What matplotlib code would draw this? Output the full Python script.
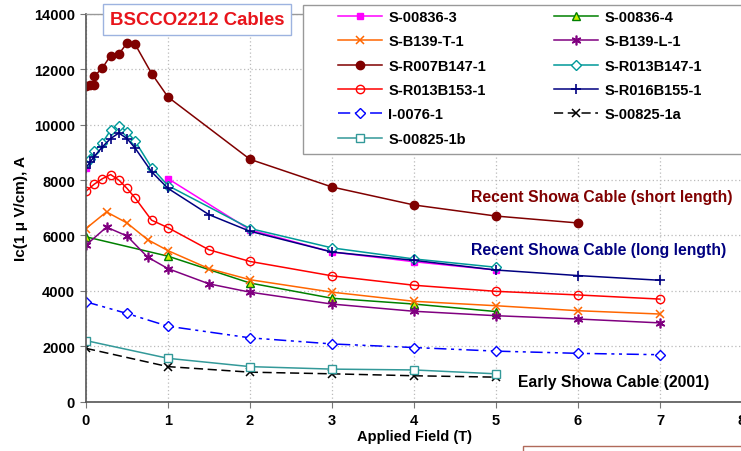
import matplotlib
matplotlib.use("Agg")
import matplotlib.pyplot as plt
from matplotlib.patches import Rectangle
from matplotlib.lines import Line2D

plt.rcParams['font.family'] = ['Liberation Sans', 'DejaVu Sans']
plt.rcParams['font.weight'] = 'bold'

# ---------------- data ----------------
x_836_3 = [0, 1, 2, 3, 4, 5]
y_836_3 = [8450, 8050, 6200, 5400, 5050, 4750]

x_836_4 = [0, 1, 2, 3, 4, 5]
y_836_4 = [5950, 5250, 4280, 3730, 3520, 3250]

x_b139_t = [0, 0.25, 0.5, 0.75, 1, 1.5, 2, 3, 4, 5, 6, 7]
y_b139_t = [6250, 6850, 6450, 5850, 5450, 4800, 4400, 3950, 3620, 3460, 3280, 3160]

x_b139_l = [0, 0.25, 0.5, 0.75, 1, 1.5, 2, 3, 4, 5, 6, 7]
y_b139_l = [5650, 6300, 5980, 5220, 4800, 4250, 3950, 3520, 3260, 3100, 2980, 2840]

x_r007 = [0, 0.05, 0.1, 0.1, 0.2, 0.3, 0.4, 0.5, 0.6, 0.8, 1, 2, 3, 4, 5, 6]
y_r007 = [11400, 11450, 11450, 11750, 12050, 12500, 12550, 12950, 12900, 11850, 11000,
          8750, 7750, 7100, 6700, 6450]

x_r013_147 = [0, 0.05, 0.1, 0.2, 0.3, 0.4, 0.5, 0.6, 0.8, 1, 2, 3, 4, 5]
y_r013_147 = [8600, 8750, 9050, 9350, 9800, 9970, 9750, 9400, 8450, 7800, 6250, 5550, 5150, 4850]

x_r013_153 = [0, 0.1, 0.2, 0.3, 0.4, 0.5, 0.6, 0.8, 1, 1.5, 2, 3, 4, 5, 6, 7]
y_r013_153 = [7600, 7850, 8050, 8200, 8000, 7700, 7350, 6550, 6280, 5480, 5060, 4540,
              4200, 3980, 3850, 3700]

x_r016 = [0, 0.05, 0.1, 0.2, 0.3, 0.4, 0.5, 0.6, 0.8, 1, 1.5, 2, 3, 4, 5, 6, 7]
y_r016 = [8450, 8650, 8850, 9200, 9500, 9700, 9500, 9150, 8300, 7700, 6750, 6150, 5400,
          5100, 4750, 4550, 4380]

x_i0076 = [0, 0.5, 1, 2, 3, 4, 5, 6, 7]
y_i0076 = [3600, 3180, 2720, 2300, 2080, 1950, 1820, 1740, 1690]

x_825_1a = [0, 1, 2, 3, 4, 5]
y_825_1a = [1920, 1260, 1060, 1000, 930, 880]

x_825_1b = [0, 1, 2, 3, 4, 5]
y_825_1b = [2200, 1560, 1260, 1170, 1140, 1000]

x_ticks = [0, 1, 2, 3, 4, 5, 6, 7, 8]
y_ticks = [0, 2000, 4000, 6000, 8000, 10000, 12000, 14000]

# ---------------- figure ----------------
W, H = 741, 452
fig = plt.figure(figsize=(W / 100, H / 100), dpi=100)
fig.patch.set_facecolor('white')

def fx(px):
    return px / W

def fy(py):
    return 1 - py / H

ax_left, ax_right, ax_top, ax_bot = 86, 742, 15, 402.5
ax = fig.add_axes([fx(ax_left), fy(ax_bot), (ax_right - ax_left) / W, (ax_bot - ax_top) / H])
ax.set_xlim(0, 8)
ax.set_ylim(0, 14000)
ax.set_xticks(x_ticks)
ax.set_yticks(y_ticks)
ax.tick_params(labelsize=10.5, length=4, color='#777777', pad=4)
for lab in ax.get_xticklabels() + ax.get_yticklabels():
    lab.set_fontweight('bold')
ax.grid(True, color='#BBBBBB', linestyle=(0, (1, 2)), linewidth=0.9)
ax.set_axisbelow(True)
for s in ['left', 'bottom']:
    ax.spines[s].set_color('#555555')
    ax.spines[s].set_linewidth(1.2)
for s in ['top', 'right']:
    ax.spines[s].set_color('#999999')
    ax.spines[s].set_linewidth(1.0)

lw = 1.1
h = {}
# S-00836-3: marker at 0 T, connected line only from 1 T on (as in the reference)
ax.plot(x_836_3[:1], y_836_3[:1], linestyle='none', marker='s', ms=5,
        mfc='#FF00FF', mec='#FF00FF', zorder=1.5)
ax.plot(x_836_3[1:], y_836_3[1:], color='#FF00FF', lw=lw, marker='s', ms=5,
        mfc='#FF00FF', mec='#FF00FF', zorder=1.5)
h['836_3'] = Line2D([], [], color='#FF00FF', lw=lw, marker='s', ms=5,
                    mfc='#FF00FF', mec='#FF00FF', label='S-00836-3')
h['836_4'], = ax.plot(x_836_4, y_836_4, color='#008000', lw=lw, marker='^', ms=6,
                      mfc='#CCEE00', mec='#008000', label='S-00836-4')
h['b139_t'], = ax.plot(x_b139_t, y_b139_t, color='#FF6600', lw=lw, marker='x', ms=6,
                       mew=1.1, label='S-B139-T-1')
h['b139_l'], = ax.plot(x_b139_l, y_b139_l, color='#800080', lw=lw, marker=(6, 2, 0), ms=7,
                       mew=1.2, label='S-B139-L-1')
h['r007'], = ax.plot(x_r007, y_r007, color='#800000', lw=lw, marker='o', ms=6,
                     mfc='#800000', mec='#800000', label='S-R007B147-1')
h['r013_147'], = ax.plot(x_r013_147, y_r013_147, color='#009999', lw=lw, marker='D', ms=5,
                         mfc='white', mec='#009999', mew=1.0, label='S-R013B147-1')
h['r013_153'], = ax.plot(x_r013_153, y_r013_153, color='#FF0000', lw=lw, marker='o', ms=6,
                         mfc='none', mec='#FF0000', mew=1.0, label='S-R013B153-1')
h['r016'], = ax.plot(x_r016, y_r016, color='#000080', lw=lw, marker='+', ms=7,
                     mew=1.2, label='S-R016B155-1')
h['i0076'], = ax.plot(x_i0076, y_i0076, color='#0000FF', lw=lw, marker='D', ms=5,
                      mfc='white', mec='#0000FF', mew=1.0,
                      linestyle=(0, (8, 3, 2, 3, 2, 3)), label='I-0076-1')
h['825_1a'], = ax.plot(x_825_1a, y_825_1a, color='black', lw=lw, marker='x', ms=6,
                       mew=1.1, linestyle=(0, (6, 3)), label='S-00825-1a')
h['825_1b'], = ax.plot(x_825_1b, y_825_1b, color='#339999', lw=lw, marker='s', ms=5.5,
                       mfc='white', mec='#339999', mew=1.0, label='S-00825-1b')

ax.set_xlabel('Applied Field (T)', fontsize=10.5, fontweight='bold', labelpad=2)
ax.set_ylabel('Ic(1 μ V/cm), A', fontsize=11, fontweight='bold', labelpad=4)

# annotations
ax.text(4.7, 7390, 'Recent Showa Cable (short length)', color='#800000',
        fontsize=11.3, fontweight='bold', ha='left', va='center')
ax.text(4.69, 5475, 'Recent Showa Cable (long length)', color='#000080',
        fontsize=11.3, fontweight='bold', ha='left', va='center')
ax.text(5.27, 740, 'Early Showa Cable (2001)', color='black',
        fontsize=11.3, fontweight='bold', ha='left', va='center')

# title box
fig.text(fx(197), fy(20.5), 'BSCCO2212 Cables', color='#E8141B', fontsize=13.4,
         fontweight='bold', ha='center', va='center',
         bbox=dict(boxstyle='square,pad=0.36', fc='white', ec='#9DB3E0', lw=1.0))

# legend frame
fig.patches.append(Rectangle((fx(303), fy(155)), (745 - 303) / W, (155 - 6) / H,
                             transform=fig.transFigure, fc='white', ec='#999999',
                             lw=1.0, zorder=2))
order = ['836_3', 'b139_t', 'r007', 'r013_153', 'i0076', '825_1b',
         '836_4', 'b139_l', 'r013_147', 'r016', '825_1a']
leg = fig.legend([h[k] for k in order], [h[k].get_label() for k in order],
                 loc='upper left', bbox_to_anchor=(fx(338), fy(11)),
                 bbox_transform=fig.transFigure, ncol=2, frameon=False,
                 prop={'weight': 'bold', 'size': 10.5},
                 handlelength=3.0, handletextpad=0.45, columnspacing=4.65,
                 labelspacing=0.71, borderpad=0, borderaxespad=0, numpoints=1)
leg.set_zorder(3)

# partial box at bottom right
fig.patches.append(Rectangle((fx(523), fy(470)), (760 - 523) / W, (470 - 447) / H,
                             transform=fig.transFigure, fc='white', ec='#B06A5A',
                             lw=1.0, zorder=2))

fig.savefig('out.png', dpi=100)
